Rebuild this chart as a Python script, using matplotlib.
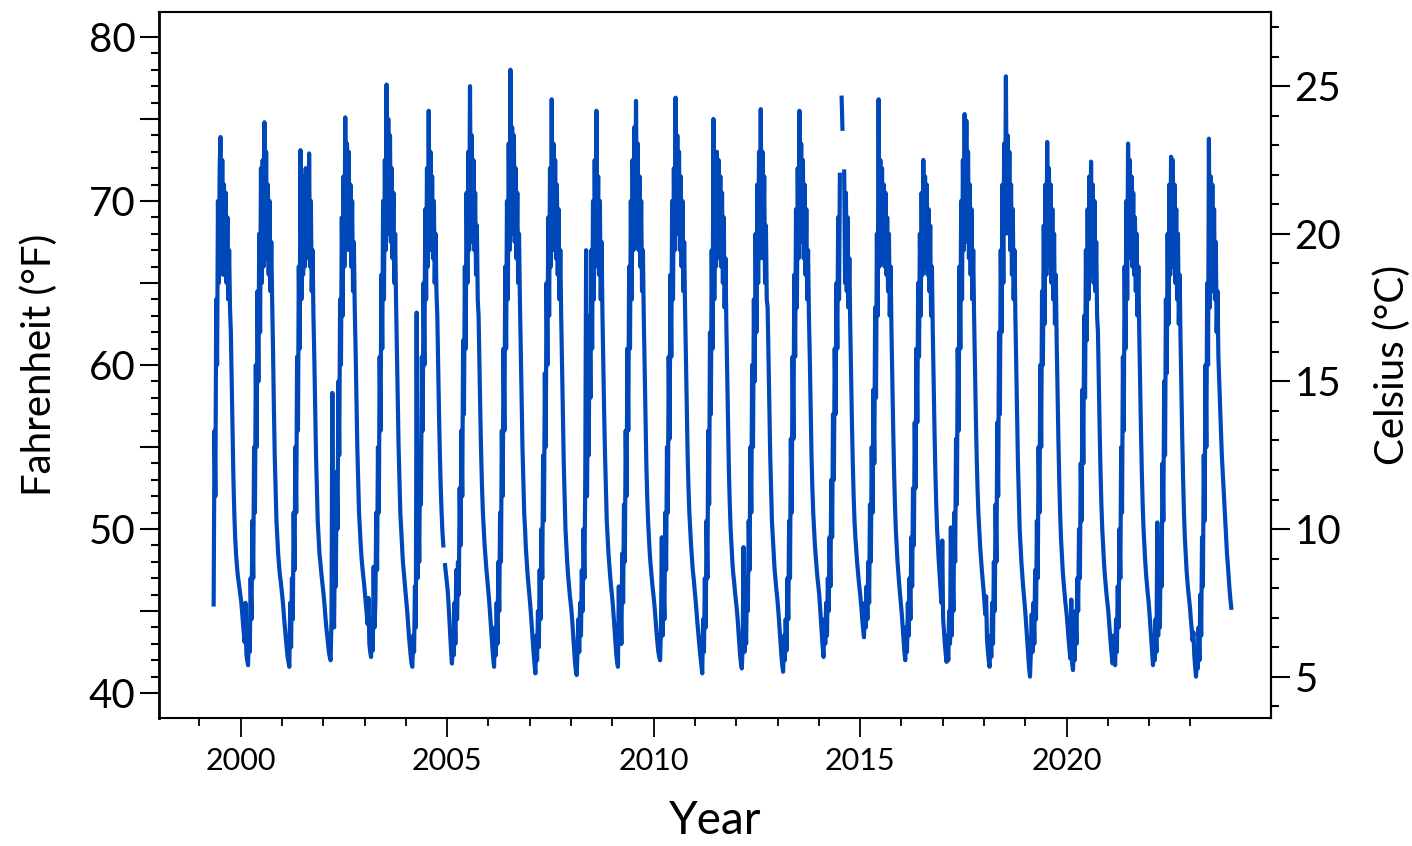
import numpy as np
import matplotlib
matplotlib.use("Agg")
import matplotlib.pyplot as plt
from matplotlib.ticker import FixedLocator, FuncFormatter

plt.rcParams['font.family'] = ['Lato', 'DejaVu Sans']

nan = np.nan

# water temperature (deg F), 48 readings per year (4 per month, Jan..Dec)
temp_1999 = [nan, nan, nan, nan, nan, nan, nan, nan, nan, nan, nan, nan,
             nan, nan, nan, nan, 45.4, 56, 52, 64, 60, 70, 65, 72,
             73.9, 66, 72.5, 65.5, 71, 66, 70.5, 65, 69, 64, 67, 63.5,
             62, 59, 56, 53, 51, 49.5, 48.5, 47.8, 47.2, 46.8, 46.4, 46.0]
temp_2000 = [45.6, 45.0, 44.3, 43.7, 43.1, 45.5, 42.4, 42.0, 41.7, 44.0, 42.5, 47.0,
             44.5, 50.5, 47.0, 55.0, 51.0, 60.0, 55.0, 64.5, 59.0, 68.0, 62.0, 72.0,
             65.0, 72.5, 66.0, 74.8, 67.0, 73.0, 66.5, 71.0, 65.5, 70.0, 64.5, 67.5,
             64.0, 61.0, 57.5, 54.5, 52.5, 50.5, 49.5, 48.5, 47.8, 47.2, 46.8, 46.3]
temp_2001 = [45.8, 45.2, 44.5, 43.9, 43.3, 42.7, 42.2, 41.9, 41.6, 45.5, 42.8, 47.0,
             44.5, 51.0, 47.5, 55.0, 51.0, 60.5, 56.0, 66.0, 61.0, 73.1, 64.0, 70.0,
             65.5, 71.5, 66.0, 72.0, 66.5, 71.0, 67.0, 72.9, 66.0, 70.0, 64.5, 67.0,
             63.0, 60.5, 57.5, 54.5, 52.5, 50.5, 49.5, 48.5, 48.0, 47.4, 46.9, 46.4]
temp_2002 = [45.9, 45.3, 44.6, 44.0, 43.5, 43.0, 42.5, 42.2, 42.0, 44.5, 58.3, 45.5,
             44.0, 49.5, 46.5, 53.5, 50.0, 59.0, 54.5, 64.0, 60.0, 69.0, 63.0, 71.5,
             66.0, 75.1, 67.0, 73.5, 67.5, 73.0, 67.0, 71.0, 66.0, 70.0, 64.5, 67.5,
             63.5, 61.0, 58.0, 55.0, 53.0, 51.0, 50.0, 49.0, 48.2, 47.6, 47.1, 46.6]
temp_2003 = [46.0, 45.4, 44.8, 44.2, 45.8, 43.0, 42.5, 42.2, 44.5, 42.6, 47.7, 44.0,
             45.5, 51.0, 47.5, 55.0, 51.0, 60.5, 56.0, 65.5, 61.0, 70.0, 64.0, 72.5,
             67.0, 77.1, 68.0, 75.0, 68.0, 74.0, 67.5, 72.0, 66.5, 70.5, 65.0, 68.0,
             64.0, 61.0, 58.0, 55.0, 53.0, 51.0, 50.0, 49.0, 48.0, 47.4, 46.8, 46.2]
temp_2004 = [45.6, 45.0, 44.2, 43.5, 42.9, 42.3, 41.8, 41.6, 43.5, 42.5, 46.5, 44.0,
             63.2, 47.0, 51.5, 48.0, 55.0, 51.5, 60.5, 56.0, 65.0, 60.0, 69.5, 64.0,
             72.0, 66.0, 75.5, 67.5, 73.0, 67.0, 71.5, 66.5, 70.0, 65.0, 68.0, 64.5,
             63.0, 60.0, 57.0, 54.5, 52.5, 51.0, 49.8, 49.0, nan, 47.8, 47.3, 46.8]
temp_2005 = [46.3, 45.5, 44.5, 43.5, 42.6, 41.8, 43.5, 42.3, 45.5, 43.0, 47.5, 44.5,
             48.0, 46.0, 52.5, 49.0, 56.0, 52.0, 61.5, 57.0, 66.0, 61.0, 70.5, 65.0,
             73.0, 67.0, 77.0, 69.0, 74.0, 67.5, 72.5, 67.0, 70.5, 65.5, 68.5, 64.0,
             63.0, 60.0, 57.0, 54.5, 52.5, 51.0, 50.0, 49.0, 48.3, 47.6, 47.0, 46.4]
temp_2006 = [45.8, 45.1, 44.3, 43.5, 42.8, 42.1, 41.6, 44.0, 42.3, 45.5, 43.0, 48.0,
             45.0, 51.0, 48.0, 56.0, 52.0, 61.0, 56.0, 66.0, 61.0, 70.0, 64.0, 73.5,
             67.0, 78.0, 69.0, 74.5, 68.0, 74.0, 67.5, 72.0, 66.5, 70.5, 65.0, 68.0,
             64.0, 61.0, 58.0, 55.0, 53.0, 51.0, 50.0, 48.8, 48.0, 47.2, 46.6, 46.0]
temp_2007 = [45.4, 44.7, 43.9, 43.1, 42.4, 41.8, 41.2, 43.5, 42.0, 45.0, 42.8, 47.5,
             44.5, 50.0, 47.0, 54.5, 50.5, 59.5, 55.0, 65.0, 60.0, 69.0, 63.0, 72.0,
             66.0, 76.2, 67.5, 73.5, 67.0, 72.5, 66.5, 71.0, 65.5, 69.5, 64.0, 67.0,
             63.0, 60.0, 57.0, 54.0, 52.0, 50.0, 49.0, 48.0, 47.2, 46.6, 46.0, 45.5]
temp_2008 = [45.0, 44.3, 43.5, 42.6, 41.9, 41.4, 41.1, 42.5, 44.5, 42.5, 45.5, 43.5,
             47.5, 45.0, 50.0, 47.0, 53.0, 67.0, 52.0, 58.0, 54.5, 63.0, 58.0, 67.0,
             61.0, 70.0, 64.0, 72.5, 66.0, 75.5, 67.0, 71.5, 65.5, 70.0, 64.0, 67.5,
             63.0, 60.0, 57.0, 54.5, 52.5, 50.5, 49.5, 48.5, 47.8, 47.1, 46.5, 46.0]
temp_2009 = [45.4, 44.7, 43.9, 43.1, 42.4, 41.9, 41.6, 46.5, 43.0, 45.5, 43.0, 48.5,
             45.5, 51.5, 48.0, 56.0, 52.0, 61.0, 56.0, 66.0, 61.0, 70.0, 64.0, 72.5,
             67.0, 74.5, 67.5, 76.1, 68.0, 73.5, 67.0, 71.5, 66.0, 70.0, 64.5, 67.0,
             63.0, 60.0, 57.0, 54.0, 52.0, 50.5, 49.5, 48.5, 47.8, 47.2, 46.6, 46.1]
temp_2010 = [45.6, 45.0, 44.3, 43.6, 43.0, 42.5, 42.2, 42.0, 44.0, 49.5, 43.5, 46.5,
             44.5, 51.0, 47.5, 55.0, 51.0, 60.5, 55.5, 65.5, 60.5, 70.0, 64.0, 72.0,
             67.0, 76.3, 68.0, 74.0, 68.0, 73.0, 67.0, 71.5, 66.0, 70.0, 64.5, 67.5,
             63.5, 60.5, 57.5, 54.5, 52.5, 51.0, 50.0, 49.0, 48.2, 47.5, 47.0, 46.4]
temp_2011 = [45.8, 45.2, 44.5, 43.9, 43.3, 42.7, 42.2, 41.7, 41.2, 44.5, 42.5, 47.0,
             44.0, 50.5, 47.0, 56.0, 51.5, 62.0, 57.0, 67.0, 61.0, 75.0, 64.0, 72.5,
             66.0, 73.0, 67.0, 72.5, 66.5, 71.5, 66.0, 70.5, 65.0, 69.0, 63.5, 66.5,
             62.5, 59.5, 56.5, 53.5, 51.5, 50.0, 49.0, 48.0, 47.3, 46.8, 46.2, 45.7]
temp_2012 = [45.2, 44.6, 43.8, 43.0, 42.3, 41.8, 41.5, 43.0, 48.9, 42.5, 44.5, 43.0,
             47.0, 45.0, 50.5, 47.5, 55.0, 51.0, 60.0, 55.0, 64.0, 59.0, 68.0, 62.0,
             71.0, 65.0, 73.0, 66.5, 75.6, 67.5, 73.0, 66.5, 71.5, 65.0, 68.5, 64.0,
             63.5, 60.5, 57.5, 54.5, 52.5, 50.5, 49.5, 48.5, 47.6, 47.0, 46.4, 45.9]
temp_2013 = [45.3, 44.6, 43.8, 43.0, 42.3, 41.7, 41.3, 43.5, 42.0, 44.5, 42.6, 47.0,
             44.5, 50.5, 47.0, 55.5, 51.0, 60.5, 55.5, 65.5, 60.5, 69.5, 63.5, 72.0,
             66.5, 75.5, 67.5, 73.5, 67.5, 72.5, 66.5, 71.0, 65.5, 69.5, 64.0, 67.0,
             63.0, 60.5, 57.5, 54.5, 52.5, 51.0, 50.0, 49.0, 48.3, 47.6, 47.0, 46.5]
temp_2014 = [46.0, 45.2, 44.3, 43.5, 42.8, 42.2, 44.5, 43.0, 45.5, 43.5, 47.0, 45.0,
             49.5, 46.5, 53.0, 49.5, 57.0, 53.0, 61.0, 57.0, 65.0, 61.0, 69.0, 64.0,
             71.6, nan, 76.3, 74.4, nan, 71.8, 65.0, 70.5, 64.5, 69.0, 63.5, 66.5,
             62.5, 59.5, 56.5, 54.0, 52.0, 50.5, 49.5, 48.7, 48.0, 47.4, 46.8, 46.3]
temp_2015 = [45.8, 45.2, 44.5, 43.9, 43.4, 45.5, 44.0, 46.5, 44.5, 48.0, 45.5, 51.5,
             48.0, 55.0, 51.0, 58.5, 54.0, 63.5, 58.0, 68.0, 63.0, 76.2, 66.0, 72.5,
             67.0, 72.0, 66.5, 71.0, 66.0, 70.5, 65.5, 69.0, 64.5, 68.0, 63.0, 66.0,
             62.0, 59.0, 56.0, 53.5, 51.5, 50.0, 49.0, 48.0, 47.3, 46.6, 46.0, 45.4]
temp_2016 = [44.8, 44.0, 43.2, 42.5, 42.0, 44.0, 42.5, 45.5, 43.5, 47.0, 44.5, 49.5,
             46.5, 52.5, 49.0, 56.5, 52.5, 61.0, 56.5, 65.0, 60.5, 68.0, 63.0, 70.5,
             65.5, 72.5, 66.5, 71.5, 66.0, 71.0, 65.5, 69.5, 64.5, 68.5, 63.0, 66.0,
             62.0, 59.0, 56.0, 53.5, 51.5, 50.0, 49.0, 48.0, 47.2, 46.5, 45.5, 49.3]
temp_2017 = [44.5, 43.8, 43.0, 42.4, 41.9, 43.5, 42.0, 45.0, 43.0, 50.1, 43.5, 47.5,
             45.0, 51.0, 48.0, 55.5, 51.5, 61.0, 56.0, 66.0, 61.0, 70.0, 64.0, 72.5,
             67.0, 75.3, 68.0, 74.9, 67.5, 73.0, 66.5, 71.0, 65.5, 69.5, 64.0, 67.0,
             63.0, 60.0, 57.0, 54.5, 52.5, 51.0, 50.0, 49.0, 48.2, 47.5, 46.9, 46.3]
temp_2018 = [45.6, 44.8, 45.9, 43.3, 42.6, 42.0, 41.6, 43.5, 42.2, 45.5, 43.0, 48.0,
             45.0, 51.5, 48.0, 56.5, 52.0, 62.0, 57.0, 67.0, 62.0, 71.0, 65.0, 73.5,
             68.0, 77.6, 69.0, 74.0, 68.0, 73.0, 67.0, 71.0, 65.5, 69.5, 64.0, 67.0,
             63.0, 60.0, 57.0, 54.0, 52.0, 50.0, 49.0, 48.0, 47.2, 46.5, 45.9, 45.3]
temp_2019 = [44.6, 43.8, 43.0, 42.2, 41.5, 41.0, 42.5, 44.8, 42.5, 45.5, 43.0, 47.5,
             44.5, 50.5, 47.0, 55.0, 51.0, 60.0, 55.0, 64.5, 60.0, 68.5, 62.5, 71.0,
             65.5, 73.6, 66.5, 72.0, 66.0, 71.0, 65.0, 69.5, 64.0, 68.0, 62.5, 65.5,
             61.5, 58.5, 55.5, 53.0, 51.0, 49.5, 48.5, 47.5, 46.8, 46.2, 45.6, 45.1]
temp_2020 = [44.6, 43.9, 43.2, 42.6, 42.1, 45.7, 41.8, 41.4, 43.5, 42.0, 45.0, 43.0,
             47.0, 45.0, 50.0, 47.0, 54.0, 50.5, 58.5, 54.0, 63.0, 58.0, 67.0, 61.5,
             69.5, 64.0, 71.5, 65.5, 72.4, 66.0, 71.0, 65.0, 70.0, 64.5, 67.5, 63.0,
             62.0, 59.0, 56.0, 53.5, 51.5, 50.0, 49.0, 48.0, 47.2, 46.6, 46.0, 45.5]
temp_2021 = [45.0, 44.3, 43.6, 42.9, 42.3, 41.8, 43.5, 42.0, 41.7, 44.5, 42.5, 46.5,
             44.0, 50.0, 47.0, 55.0, 51.0, 60.5, 56.0, 66.0, 61.0, 70.0, 64.0, 73.5,
             67.0, 72.5, 66.5, 71.5, 66.0, 70.5, 65.5, 69.0, 64.5, 68.0, 63.0, 66.0,
             62.0, 59.0, 56.0, 53.5, 51.5, 50.0, 49.0, 48.0, 47.2, 46.6, 46.0, 45.5]
temp_2022 = [44.8, 44.0, 43.2, 42.4, 41.7, 43.5, 42.0, 44.5, 42.5, 50.4, 43.5, 46.5,
             44.0, 49.5, 46.5, 54.0, 50.5, 59.0, 54.5, 64.0, 59.5, 68.0, 62.5, 71.0,
             65.5, 72.7, 66.0, 72.5, 66.0, 71.0, 65.0, 69.5, 64.0, 68.0, 62.5, 65.5,
             61.5, 58.5, 55.5, 53.0, 51.0, 49.5, 48.5, 47.5, 46.8, 46.2, 45.7, 45.2]
temp_2023 = [44.5, 43.9, 43.2, 43.7, 42.3, 41.6, 41.0, 42.5, 41.5, 44.0, 42.0, 46.0,
             43.5, 49.5, 46.5, 54.5, 50.5, 60.0, 55.0, 65.0, 60.0, 73.8, 63.5, 71.5,
             65.0, 71.0, 64.5, 69.5, 64.0, 67.5, 62.0, 64.5, 60.5, 59.0, 57.5, 56.0,
             54.5, 53.5, 52.5, 51.5, 50.5, 49.5, 48.5, 47.8, 47.0, 46.3, 45.7, 45.2]

years = list(range(1999, 2024))
series = [temp_1999, temp_2000, temp_2001, temp_2002, temp_2003, temp_2004,
          temp_2005, temp_2006, temp_2007, temp_2008, temp_2009, temp_2010,
          temp_2011, temp_2012, temp_2013, temp_2014, temp_2015, temp_2016,
          temp_2017, temp_2018, temp_2019, temp_2020, temp_2021, temp_2022,
          temp_2023]

t = []
v = []
for yr, vals in zip(years, series):
    n = len(vals)
    for i, val in enumerate(vals):
        t.append(yr + (i + 0.5) / n)
        v.append(val)
t = np.array(t)
v = np.array(v)


def f2c(f):
    return (f - 32.0) * 5.0 / 9.0


def c2f(c):
    return c * 9.0 / 5.0 + 32.0


fig = plt.figure(figsize=(14.12, 8.46), dpi=100)
ax = fig.add_axes([0.1126, 0.1513, 0.7875, 0.8345])

ax.plot(t, v, color='#0048BA', lw=3.0)

ax.set_xlim(1998.02, 2024.95)
ax.set_ylim(38.48, 81.52)

for s in ax.spines.values():
    s.set_linewidth(1.5)
ax.spines['left'].set_linewidth(2.0)

# left axis (deg F)
ax.yaxis.set_major_locator(FixedLocator(list(range(40, 81, 5))))
ax.yaxis.set_minor_locator(FixedLocator(list(range(40, 81))))
ax.yaxis.set_major_formatter(FuncFormatter(lambda x, p: '%d' % x if x % 10 == 0 else ''))
ax.tick_params(axis='y', which='major', length=14, width=1.5, labelsize=29, pad=3)
ax.tick_params(axis='y', which='minor', length=5.5, width=1.5)

# bottom axis (years)
ax.xaxis.set_major_locator(FixedLocator([2000, 2005, 2010, 2015, 2020]))
ax.xaxis.set_minor_locator(FixedLocator(years))
ax.tick_params(axis='x', which='major', length=14, width=1.3, labelsize=22, pad=7)
ax.tick_params(axis='x', which='minor', length=6, width=1.3)

ax.set_xlabel('Year', fontsize=33, labelpad=18)
ax.set_ylabel('Fahrenheit (°F)', fontsize=29, labelpad=22)

# right axis (deg C)
sec = ax.secondary_yaxis('right', functions=(f2c, c2f))
sec.yaxis.set_major_locator(FixedLocator([5, 10, 15, 20, 25]))
sec.yaxis.set_minor_locator(FixedLocator(list(range(4, 28))))
sec.tick_params(axis='y', which='major', length=14, width=1.5, labelsize=29, pad=3)
sec.tick_params(axis='y', which='minor', length=5.5, width=1.5)
sec.spines['right'].set_linewidth(1.5)
sec.set_ylabel('Celsius (°C)', fontsize=29, labelpad=23)

fig.savefig('out.png', dpi=100)
